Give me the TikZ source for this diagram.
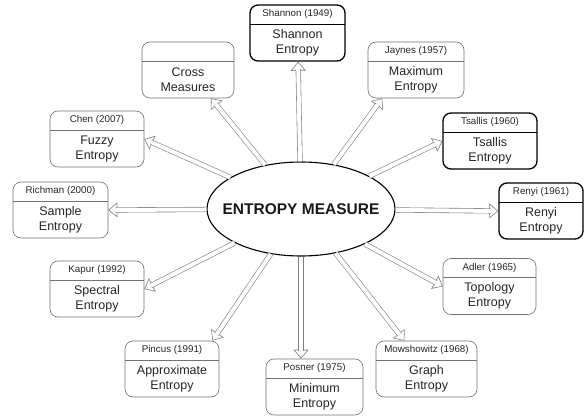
\documentclass[tikz,border=0pt]{standalone}
\usepackage{fontspec}
\setmainfont{Liberation Sans}
\usetikzlibrary{arrows.meta,shapes.geometric}

\tikzset{
  thinframe/.style={draw=black!55, line width=0.6pt},
  thickframe/.style={draw=black, line width=1.3pt},
  entbox/.style={rounded corners=8pt, minimum height=56pt, inner sep=0pt, fill=white},
  plainbox/.style={entbox, thinframe,
    path picture={\draw[thinframe]
      ([yshift=-19pt]path picture bounding box.north west) --
      ([yshift=-19pt]path picture bounding box.north east);}},
  keybox/.style={entbox, thickframe,
    path picture={\draw[draw=black, line width=0.9pt]
      ([yshift=-19pt]path picture bounding box.north west) --
      ([yshift=-19pt]path picture bounding box.north east);}},
  yeartext/.style={font=\fontsize{9.8}{11}\selectfont, text=black!85, inner sep=0pt},
  nametext/.style={font=\fontsize{12.5}{15}\selectfont, text=black!85, align=center, inner sep=0pt},
  hub/.style={ellipse, draw=black, line width=1.1pt, minimum width=188pt, minimum height=94pt,
    inner sep=0pt, fill=white, font=\fontsize{15.5}{18}\selectfont\bfseries, text=black!90},
  % open arrow head, drawn on a white carrier line hidden under the shaft
  arrowhead/.style={draw=white, line width=0.6pt,
    -{Triangle[open, fill=white, color=black!50, length=9pt, width=15pt]}},
  % hollow shaft, ending just inside the head so the head stays open
  arrowshaft/.style={draw=black!50, line width=0.6pt, double=white, double distance=4pt,
    shorten >=7.5pt},
}

% one box: style, name, centre, width, author/year, measure name
\newcommand\entitybox[6]{%
  \node[#1, minimum width=#4] (#2) at (#3) {};
  \node[yeartext] (#2-year) at ([yshift=-9.5pt]#2.north) {#5};
  \node[nametext] (#2-name) at ([yshift=-9.5pt]#2.center) {#6};
}

% hollow block arrow between two points
\newcommand\hollowlink[2]{%
  \path[arrowhead] (#1) -- (#2);
  \draw[arrowshaft] (#1) -- (#2);
}

\begin{document}
\begin{tikzpicture}[x=1pt, y=1pt]
  \useasboundingbox (0,0) rectangle (584,-417);
  \fill[white] (0,0) rectangle (584,-417);

  \node[hub] (e) at (301,-209) {\makebox[0pt]{ENTROPY MEASURE}};

  \entitybox{keybox}{sh}{297.5,-33}{95pt}{Shannon (1949)}{Shannon\\Entropy}
  \entitybox{plainbox}{cr}{188,-70}{92pt}{}{Cross\\Measures}
  \entitybox{plainbox}{ja}{416,-70}{96pt}{Jaynes (1957)}{Maximum\\Entropy}
  \entitybox{keybox}{ts}{490,-141}{94pt}{Tsallis (1960)}{Tsallis\\Entropy}
  \entitybox{plainbox}{ch}{97,-139}{94pt}{Chen (2007)}{Fuzzy\\Entropy}
  \entitybox{plainbox}{ri}{60.5,-210}{95pt}{Richman (2000)}{Sample\\Entropy}
  \entitybox{keybox}{re}{541,-211}{84pt}{Renyi (1961)}{Renyi\\Entropy}
  \entitybox{plainbox}{ka}{97,-289}{94pt}{Kapur (1992)}{Spectral\\Entropy}
  \entitybox{plainbox}{pi}{172,-369}{94pt}{Pincus (1991)}{Approximate\\Entropy}
  \entitybox{plainbox}{po}{314.5,-387}{97pt}{Posner (1975)}{Minimum\\Entropy}
  \entitybox{plainbox}{ad}{489.5,-286.5}{93pt}{Adler (1965)}{Topology\\Entropy}
  \entitybox{plainbox}{mo}{426.5,-369}{101pt}{Mowshowitz (1968)}{Graph\\Entropy}

  % hollow arrows from the hub to every measure
  \hollowlink{e}{sh}
  \hollowlink{e}{cr}
  \hollowlink{e}{ja.220}
  \hollowlink{e}{ts.west}
  \hollowlink{e}{re.west}
  \hollowlink{e}{ad.west}
  \hollowlink{e}{mo}
  \hollowlink{e}{po.north -| e}
  \hollowlink{e}{pi.35}
  \hollowlink{e}{ka.east}
  \hollowlink{e}{ri.east}
  \hollowlink{e}{ch.east}
\end{tikzpicture}
\end{document}
